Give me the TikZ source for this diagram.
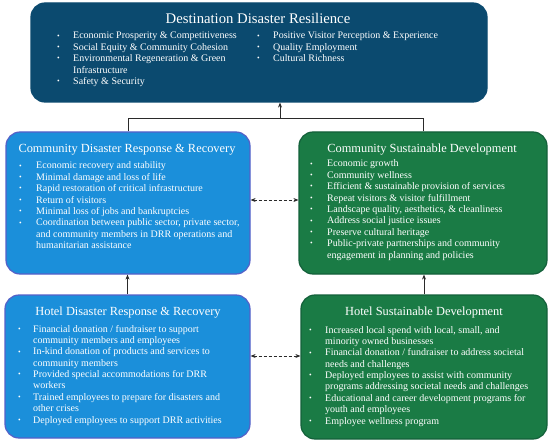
\documentclass[tikz,border=0pt]{standalone}
\usepackage{fontspec}
\setmainfont{Liberation Serif}
\usetikzlibrary{arrows.meta}
\definecolor{navyfill}{HTML}{0B4A6F}
\definecolor{bluefill}{HTML}{1B8FDA}
\definecolor{blueedge}{HTML}{5560C8}
\definecolor{greenfill}{HTML}{1A7B45}
\definecolor{greenedge}{HTML}{13603A}
\definecolor{lineclr}{HTML}{2A2A2A}
\newcommand{\bl}{\raisebox{0.8pt}{\fontsize{7.5}{8}\selectfont\textbullet}}
\newcommand{\lst}[2]{\begin{tabular}[t]{@{}p{#1}@{}l@{}}#2\end{tabular}}
\begin{document}
\begin{tikzpicture}[x=1pt,y=-1pt,
  box/.style={rounded corners=14pt, line width=1.2pt, inner sep=0pt},
  navybox/.style={box, fill=navyfill, draw=navyfill},
  bluebox/.style={box, fill=bluefill, draw=blueedge},
  greenbox/.style={box, fill=greenfill, draw=greenedge},
  ttl/.style={text=white, inner sep=0pt, anchor=base, font=\fontsize{12.4}{15}\selectfont},
  bigttl/.style={ttl, font=\fontsize{14.7}{18}\selectfont},
  lsttxt/.style={text=white, inner sep=0pt, anchor=base west, align=left, font=\fontsize{10}{11.4}\selectfont},
  conn/.style={draw=lineclr, line width=0.8pt},
  tip/.style={-{Stealth[length=5pt,width=4pt]}},
  dtip/.style={{Stealth[length=5pt,width=4pt]}-{Stealth[length=5pt,width=4pt]}, dashed, dash pattern=on 3pt off 2pt}
]
\useasboundingbox (0,0) rectangle (550,444);
% boxes
\node[navybox, minimum width=456pt, minimum height=99pt] (top) at (259,52.5) {};
\node[bluebox, minimum width=244pt, minimum height=142pt] (cdr) at (128,203) {};
\node[greenbox, minimum width=248pt, minimum height=142pt] (csd) at (423,203) {};
\node[bluebox, minimum width=245pt, minimum height=143pt] (hdr) at (127.5,366.5) {};
\node[greenbox, minimum width=246pt, minimum height=144pt] (hsd) at (424,367) {};
% titles
\node[bigttl] (toptitle) at (258,24) {Destination Disaster Resilience};
\node[ttl] (cdrtitle) at (127,153) {Community Disaster Response \& Recovery};
\node[ttl] (csdtitle) at (422,153) {Community Sustainable Development};
\node[ttl] (hdrtitle) at (128,316) {Hotel Disaster Response \& Recovery};
\node[ttl] (hsdtitle) at (424,315) {Hotel Sustainable Development};
% lists
\node[lsttxt] (topl) at (57,39) {\lst{16pt}{%
\bl & Economic Prosperity \& Competitiveness\\
\bl & Social Equity \& Community Cohesion\\
\bl & Environmental Regeneration \& Green\\
    & Infrastructure\\
\bl & Safety \& Security}};
\node[lsttxt] (topr) at (257,39) {\lst{16pt}{%
\bl & Positive Visitor Perception \& Experience\\
\bl & Quality Employment\\
\bl & Cultural Richness}};
\node[lsttxt] (cdrl) at (19,169) {\lst{17pt}{%
\bl & Economic recovery and stability\\
\bl & Minimal damage and loss of life\\
\bl & Rapid restoration of critical infrastructure\\
\bl & Return of visitors\\
\bl & Minimal loss of jobs and bankruptcies\\
\bl & Coordination between public sector, private sector,\\
    & and community members in DRR operations and\\
    & humanitarian assistance}};
\node[lsttxt] (csdl) at (310,167) {\lst{17pt}{%
\bl & Economic growth\\
\bl & Community wellness\\
\bl & Efficient \& sustainable provision of services\\
\bl & Repeat visitors \& visitor fulfillment\\
\bl & Landscape quality, aesthetics, \& cleanliness\\
\bl & Address social justice issues\\
\bl & Preserve cultural heritage\\
\bl & Public-private partnerships and community\\
    & engagement in planning and policies}};
\node[lsttxt] (hdrl) at (18,332) {\lst{15pt}{%
\bl & Financial donation / fundraiser to support\\
    & community members and employees\\
\bl & In-kind donation of products and services to\\
    & community members\\
\bl & Provided special accommodations for DRR\\
    & workers\\
\bl & Trained employees to prepare for disasters and\\
    & other crises\\
\bl & Deployed employees to support DRR activities}};
\node[lsttxt] (hsdl) at (309,333) {\lst{16pt}{%
\bl & Increased local spend with local, small, and\\
    & minority owned businesses\\
\bl & Financial donation / fundraiser to address societal\\
    & needs and challenges\\
\bl & Deployed employees to assist with community\\
    & programs addressing societal needs and challenges\\
\bl & Educational and career development programs for\\
    & youth and employees\\
\bl & Employee wellness program}};
% connectors
\coordinate (jm) at (280,118);
\coordinate (d1) at (275,200);
\coordinate (d2) at (275,356);
\draw[conn] (cdr.north) -- (cdr.north |- jm) -- (csd.north |- jm) -- (csd.north);
\draw[conn, tip] (jm) -- (jm |- top.south);
\draw[conn, tip] (hdr.north) -- (hdr.north |- cdr.south);
\draw[conn, tip] (hsd.north) -- (hsd.north |- csd.south);
\draw[conn, dtip] (cdr.east |- d1) -- (csd.west |- d1);
\draw[conn, dtip] (hdr.east |- d2) -- (hsd.west |- d2);
\end{tikzpicture}
\end{document}
